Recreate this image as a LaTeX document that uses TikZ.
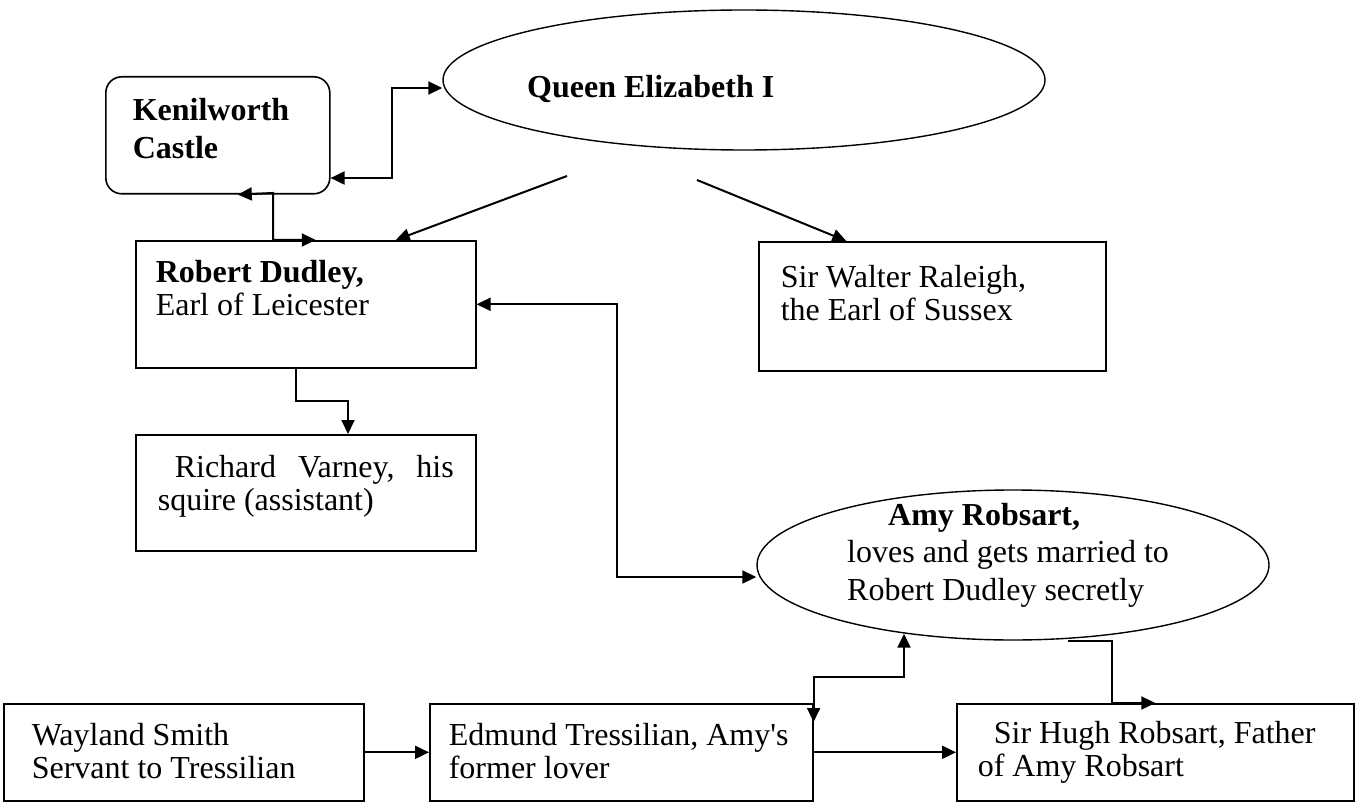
\documentclass[tikz,border=0pt]{standalone}
\usepackage{fontspec}
\setmainfont{Liberation Serif}
\usetikzlibrary{arrows.meta,shapes.geometric}

\tikzset{
    box/.style={draw, rectangle, line width=1.6pt, anchor=north west, align=left, inner ysep=0pt,
        execute at begin node={\spaceskip=0pt\xspaceskip=0pt\relax}},
    oval/.style={draw, ellipse, line width=1.4pt, inner sep=0pt},
    link/.style={line width=2pt},
}

\begin{document}
\begin{tikzpicture}[x=1pt, y=-1pt, >={Triangle[length=14pt,width=13pt]}, font=\fontsize{32}{33}\selectfont]
    \useasboundingbox (0,0) rectangle (1356,802);

    % Nodes {qe, kc, rd, wr, rv, ar, ws, et, hr}
    \node [oval, minimum width=602pt, minimum height=140pt] (qe) at (744,80) {};
    \node [anchor=base west, inner sep=0pt] (qetext) at (527,98) {\textbf{Queen Elizabeth I}};
    \node [box, rounded corners=16pt, inner xsep=27pt, text width=170pt, text height=44pt, text depth=73pt]
        (kc) at (105,76) {\textbf{Kenilworth}\\[5pt]\textbf{Castle}};
    \node [box, inner xsep=20pt, text width=300pt, text height=42pt, text depth=85pt]
        (rd) at (135,240) {\textbf{Robert Dudley,}\\Earl of Leicester};
    \node [box, inner xsep=22pt, text width=303pt, text height=46pt, text depth=83pt]
        (wr) at (758,241) {Sir Walter Raleigh,\\the Earl of Sussex};
    \node [box, inner xsep=22pt, text width=296pt, text height=43pt, text depth=73pt]
        (rv) at (135,434) {\makebox[296pt][l]{\hspace*{17pt}Richard\hfill Varney,\hfill his}\\squire (assistant)};
    \node [oval, minimum width=512pt, minimum height=150pt] (ar) at (1013,565) {};
    \node [anchor=base west, inner sep=0pt, text width=330pt, align=left, font=\fontsize{32}{37.5}\selectfont,
        execute at begin node={\spaceskip=0pt\xspaceskip=0pt\relax}]
        (artext) at (847,525) {\hspace*{41pt}\textbf{Amy Robsart,}\\loves and gets married to\\Robert Dudley secretly};
    \node [box, inner xsep=28pt, text width=304pt, text height=42pt, text depth=55pt]
        (ws) at (3,703) {Wayland Smith\\Servant to Tressilian};
    \node [box, inner xsep=19pt, text width=345pt, text height=42pt, text depth=55pt]
        (et) at (429,703) {Edmund Tressilian, Amy\textquotesingle s\\former lover};
    \node [box, inner xsep=21pt, text width=355pt, text height=40pt, text depth=57pt]
        (hr) at (956,703) {\hspace*{16pt}Sir Hugh Robsart, Father\\of Amy Robsart};

    % Bends and free ends
    \coordinate (q1) at (567,176);
    \coordinate (q2) at (697,180);
    \coordinate (kq) at (392,178);
    \coordinate (kr) at (273,193);
    \coordinate (rr) at (348,401);
    \coordinate (ra) at (617,577);
    \coordinate (ea) at (904,677);
    \coordinate (ah) at (1112,703);

    % Paths
    \draw [<->, link] (kc.east |- kq) -- (kq) |- ([yshift=-8pt]qe.west);
    \draw [<->, link] ([xshift=20pt]kc.south) -- (kr) |- ([xshift=10pt]rd.north);
    \path [->, link] (q1) edge ([xshift=90pt]rd.north);
    \path [->, link] (q2) edge ([xshift=-86pt]wr.north);
    \draw [->, link] ([xshift=-10pt]rd.south) |- (rr) -- (rr |- rv.north);
    \draw [<->, link] (rd.east) -| (ra) -- ([yshift=-12pt]ar.west);
    \path [->, link] (ws.east) edge (et.west);
    \path [->, link] (et.east) edge (hr.west);
    \draw [<->, link] ([yshift=-19pt]et.north east) |- (ea) -- ([yshift=7pt]ea |- ar.south);
    \draw [->, link] ([xshift=55pt]ar.south) -| (ah) -- (hr.north);

\end{tikzpicture}
\end{document}
